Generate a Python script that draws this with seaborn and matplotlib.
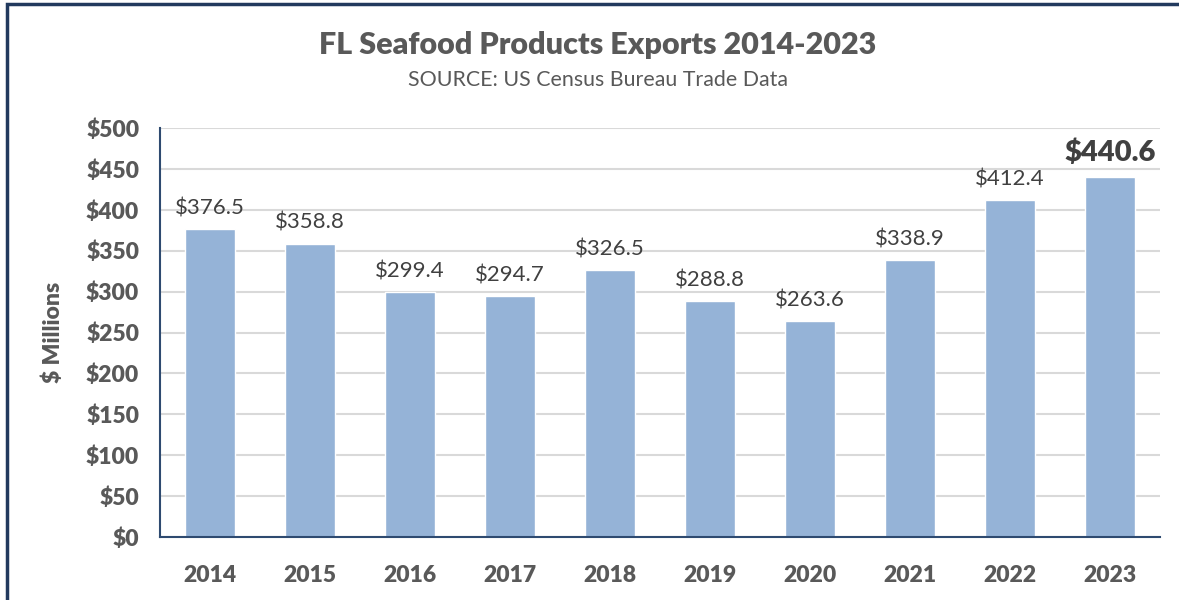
import matplotlib
matplotlib.use("Agg")
import matplotlib.pyplot as plt
import seaborn as sns
import numpy as np
from matplotlib.patches import Rectangle

years = ["2014", "2015", "2016", "2017", "2018", "2019", "2020", "2021", "2022", "2023"]
exports = [376.5, 358.8, 299.4, 294.7, 326.5, 288.8, 263.6, 338.9, 412.4, 440.6]
y_ticks = [0, 50, 100, 150, 200, 250, 300, 350, 400, 450, 500]

BAR = "#95B3D7"
AXIS = "#2E4A70"
GREY = "#595959"
HEAVY = "heavy"

sns.set_theme(style="white")
plt.rcParams["font.family"] = ["Lato", "DejaVu Sans"]

fig = plt.figure(figsize=(11.79, 6), dpi=100)
ax = fig.add_axes([160 / 1179, 1 - 537 / 600, 1000 / 1179, 409 / 600])

sns.barplot(x=years, y=exports, color=BAR, width=0.5, saturation=1, ax=ax, zorder=2)

ax.set_ylim(0, 500)
ax.set_xlim(-0.5, len(years) - 0.5)
ax.set_yticks(y_ticks)
ax.set_yticklabels([f"${v}" for v in y_ticks], fontsize=16.5, fontweight=HEAVY, color=GREY)
ax.yaxis.grid(True, color="#D9D9D9", linewidth=1.5, zorder=0)
ax.set_axisbelow(True)

# category ticks sit between the bars, like the spreadsheet original
ax.set_xticks(np.arange(-0.5, len(years)), minor=True)
ax.tick_params(axis="x", which="minor", length=7, width=1.5, color=AXIS, direction="out")
ax.tick_params(axis="x", which="major", length=0, pad=20)
ax.set_xticklabels(years, fontsize=16.5, fontweight=HEAVY, color=GREY)
ax.tick_params(axis="y", length=7, width=1.5, color=AXIS, direction="out", pad=8)

for side in ["top", "right"]:
    ax.spines[side].set_visible(False)
for side in ["left", "bottom"]:
    ax.spines[side].set_color(AXIS)
    ax.spines[side].set_linewidth(1.5)

ax.set_xlabel("")
ax.set_ylabel("$ Millions", fontsize=16.5, fontweight=HEAVY, color=GREY, labelpad=16)

for i, v in enumerate(exports):
    if i == len(exports) - 1:
        ax.text(i, v + 13, f"${v}", ha="center", va="bottom", fontsize=21, fontweight=HEAVY, color="#404040")
    else:
        ax.text(i, v + 13, f"${v}", ha="center", va="bottom", fontsize=16, color="#404040")

fig.text(598 / 1179, 1 - 45 / 600, "FL Seafood Products Exports 2014-2023", ha="center", va="center",
         fontsize=22, fontweight=HEAVY, color=GREY)
fig.text(598 / 1179, 1 - 80 / 600, "SOURCE: US Census Bureau Trade Data", ha="center", va="center",
         fontsize=15.4, color=GREY)

# dark frame around the chart area (bottom and right fall outside the crop)
fig.patches.append(Rectangle((7 / 1179, -0.05), 1.2, 1 - 4 / 600 + 0.05, transform=fig.transFigure,
                             fill=False, edgecolor="#223A5E", linewidth=2.5))

fig.savefig("out.png", dpi=100)
